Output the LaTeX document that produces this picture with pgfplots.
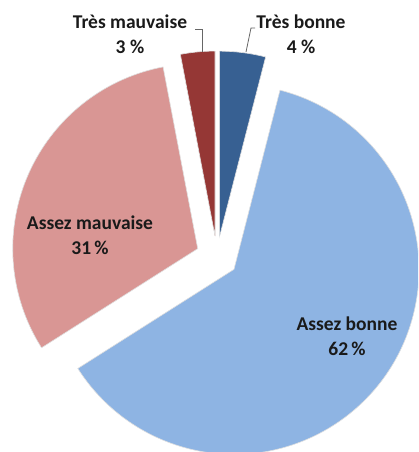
\documentclass[border=0pt]{standalone}
\usepackage{pgfplots}
\pgfplotsset{compat=1.18}
\usepackage{fontspec}
\setmainfont{Carlito}
\usetikzlibrary{calc}
\definecolor{cTB}{HTML}{376092}
\definecolor{cAB}{HTML}{8EB4E3}
\definecolor{cAM}{HTML}{D99694}
\definecolor{cTM}{HTML}{953735}
\definecolor{cTxt}{HTML}{1A1A1A}
% #1 = cumulative percent before slice, #2 = slice percent, #3 = colour
\newcommand{\slice}[3]{%
  \fill[#3, draw=white!88!black, line width=0.6pt]
    ($(axis cs:217,195)+({90-3.6*(#1+#2/2)}:21pt)$) -- ++({90-3.6*#1}:185pt)
    arc[start angle={90-3.6*#1}, delta angle={-3.6*#2}, radius=185pt] -- cycle;}
\begin{document}
\begin{tikzpicture}
\begin{axis}[width=418pt,height=452pt,scale only axis,
  xmin=0,xmax=418,ymin=0,ymax=452,hide axis]
\path (axis cs:0,0) rectangle (axis cs:418,452);
\slice{0}{4}{cTB}
\slice{4}{62}{cAB}
\slice{66}{31}{cAM}
\slice{97}{3}{cTM}
\draw[gray!80!black, line width=0.8pt] (axis cs:195,423) -- (axis cs:202,423) -- (axis cs:202,400);
\draw[gray!80!black, line width=0.8pt] (axis cs:255,424) -- (axis cs:251,424) -- (axis cs:246,400);
\tikzset{lab/.style={font=\bfseries\fontsize{19.5}{25}\selectfont, align=center, text=cTxt, inner sep=0pt}}
\node[lab] at (axis cs:130,417.5) {Très mauvaise\\3 \%};
\node[lab] at (axis cs:301,417.5) {Très bonne\\4 \%};
\node[lab] at (axis cs:90,216.5) {Assez mauvaise\\31\,\%};
\node[lab] at (axis cs:347,116) {Assez bonne\\62\,\%};
\end{axis}
\end{tikzpicture}
\end{document}
